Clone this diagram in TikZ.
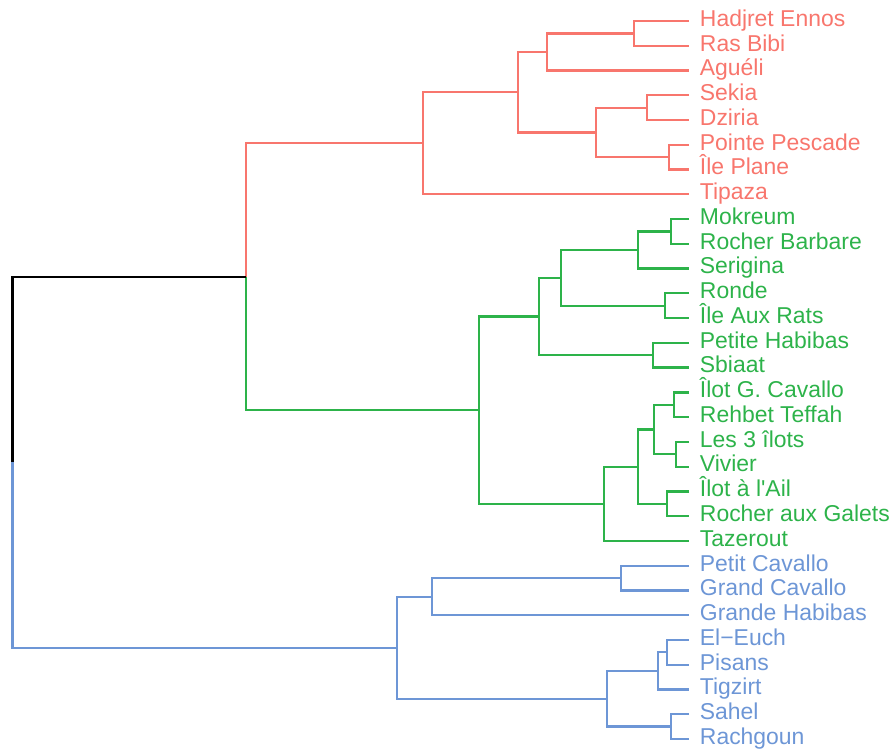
\documentclass[tikz,border=0pt]{standalone}
\usepackage{fontspec}
\newfontfamily\labelfont{Liberation Sans}
\definecolor{cred}{HTML}{F8766D}
\definecolor{cgreen}{HTML}{2DB34A}
\definecolor{cblue}{HTML}{6D96D6}
\tikzset{
  leaf/.style={anchor=west, inner xsep=8pt, inner ysep=0pt, text height=0.8em, text depth=0pt, font=\labelfont\fontsize{17.2}{20}\selectfont},
  br/.style={line width=1.7pt, line join=miter},
}
\begin{document}
\begin{tikzpicture}[x=0.75pt, y=-0.75pt]
\useasboundingbox (0,0) rectangle (891,749);
% leaves
\foreach \i/\t/\c in {0/Hadjret Ennos/cred, 1/Ras Bibi/cred, 2/Aguéli/cred, 3/Sekia/cred, 4/Dziria/cred, 5/Pointe Pescade/cred, 6/Île Plane/cred, 7/Tipaza/cred,
  8/Mokreum/cgreen, 9/Rocher Barbare/cgreen, 10/Serigina/cgreen, 11/Ronde/cgreen, 12/Île Aux Rats/cgreen, 13/Petite Habibas/cgreen, 14/Sbiaat/cgreen,
  15/Îlot G. Cavallo/cgreen, 16/Rehbet Teffah/cgreen, 17/Les 3 îlots/cgreen, 18/Vivier/cgreen, 19/Îlot à l'Ail/cgreen, 20/Rocher aux Galets/cgreen, 21/Tazerout/cgreen,
  22/Petit Cavallo/cblue, 23/Grand Cavallo/cblue, 24/Grande Habibas/cblue, 25/El−Euch/cblue, 26/Pisans/cblue, 27/Tigzirt/cblue, 28/Sahel/cblue, 29/Rachgoun/cblue}
  {\node[leaf, text=\c] (l\i) at (689, {21+\i*24.7586}) {\t};}
% internal nodes
\coordinate (r1) at (634.3, 33.38);
\coordinate (r2) at (546.7, 51.95);
\coordinate (r3) at (646.7, 107.66);
\coordinate (r4) at (669.3, 157.17);
\coordinate (r5) at (596, 132.41);
\coordinate (r6) at (518.3, 92.18);
\coordinate (r7) at (422.7, 143.25);
\coordinate (g1) at (671, 231.45);
\coordinate (g2) at (638, 250.02);
\coordinate (g3) at (665, 305.72);
\coordinate (g4) at (561, 277.87);
\coordinate (g5) at (653.3, 355.24);
\coordinate (g6) at (539.3, 316.56);
\coordinate (g7) at (674.3, 404.76);
\coordinate (g8) at (676, 454.28);
\coordinate (g9) at (654, 429.52);
\coordinate (g10) at (666.7, 503.79);
\coordinate (g11) at (638.3, 466.66);
\coordinate (g12) at (604, 503.80);
\coordinate (g13) at (478.7, 410.18);
\coordinate (rg) at (246, 276.72);
\coordinate (b1) at (621, 578.07);
\coordinate (b2) at (432.3, 596.64);
\coordinate (b3) at (667.3, 652.35);
\coordinate (b4) at (657.7, 670.92);
\coordinate (b5) at (671, 726.62);
\coordinate (b6) at (607.3, 698.77);
\coordinate (b7) at (397.3, 647.71);
\coordinate (root) at (12.5, 462.2);
% red branches
\begin{scope}[br, cred]
\draw (l0.west) -| (r1) |- (l1.west);
\draw (r1) -| (r2) |- (l2.west);
\draw (l3.west) -| (r3) |- (l4.west);
\draw (l5.west) -| (r4) |- (l6.west);
\draw (r3) -| (r5) |- (r4);
\draw (r2) -| (r6) |- (r5);
\draw (r6) -| (r7) |- (l7.west);
\draw (r7) -| (rg);
\end{scope}
% green branches
\begin{scope}[br, cgreen]
\draw (l8.west) -| (g1) |- (l9.west);
\draw (g1) -| (g2) |- (l10.west);
\draw (l11.west) -| (g3) |- (l12.west);
\draw (g2) -| (g4) |- (g3);
\draw (l13.west) -| (g5) |- (l14.west);
\draw (g4) -| (g6) |- (g5);
\draw (l15.west) -| (g7) |- (l16.west);
\draw (l17.west) -| (g8) |- (l18.west);
\draw (g7) -| (g9) |- (g8);
\draw (l19.west) -| (g10) |- (l20.west);
\draw (g9) -| (g11) |- (g10);
\draw (g11) -| (g12) |- (l21.west);
\draw (g6) -| (g13) |- (g12);
\draw (rg) |- (g13);
\end{scope}
% blue branches
\begin{scope}[br, cblue]
\draw (l22.west) -| (b1) |- (l23.west);
\draw (b1) -| (b2) |- (l24.west);
\draw (l25.west) -| (b3) |- (l26.west);
\draw (b3) -| (b4) |- (l27.west);
\draw (l28.west) -| (b5) |- (l29.west);
\draw (b4) -| (b6) |- (b5);
\draw (b2) -| (b7) |- (b6);
\draw (root) |- (b7);
\end{scope}
% root
\draw[br, black] (rg) -| (root);
\end{tikzpicture}
\end{document}
